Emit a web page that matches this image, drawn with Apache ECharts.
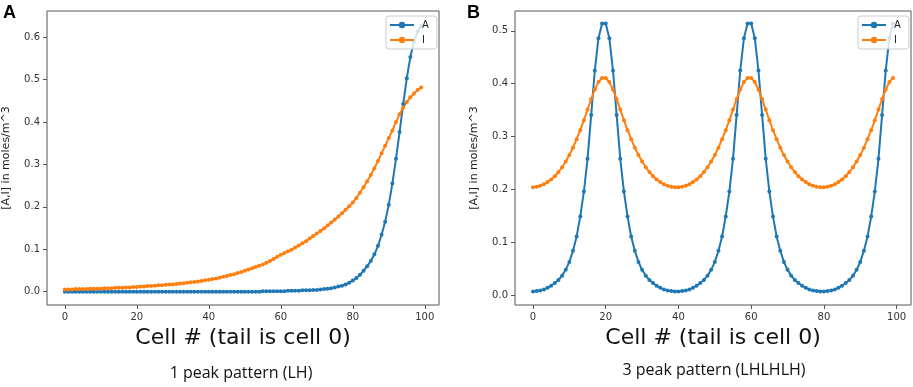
<!DOCTYPE html>
<html>
<head>
<meta charset="utf-8">
<script src="https://cdn.jsdelivr.net/npm/echarts@6/dist/echarts.min.js"></script>
<style>
  html, body { margin: 0; padding: 0; background: #fff; }
  #chart { width: 913px; height: 387px; }
</style>
</head>
<body>
<div id="chart"></div>
<script>
// cell index along the tail -> head axis
const cells = Array.from({ length: 100 }, (_, i) => i);

// panel A : 1 peak pattern (LH)
const lhA = [
  0.000, 0.000, 0.000, 0.000, 0.000, 0.000, 0.000, 0.000, 0.000, 0.000,
  0.000, 0.000, 0.000, 0.000, 0.000, 0.000, 0.000, 0.000, 0.000, 0.000,
  0.000, 0.000, 0.000, 0.000, 0.000, 0.000, 0.000, 0.000, 0.000, 0.000,
  0.000, 0.000, 0.000, 0.000, 0.000, 0.000, 0.000, 0.000, 0.000, 0.000,
  0.000, 0.000, 0.000, 0.000, 0.000, 0.000, 0.000, 0.000, 0.000, 0.000,
  0.000, 0.000, 0.000, 0.000, 0.000, 0.001, 0.001, 0.001, 0.001, 0.001,
  0.001, 0.001, 0.002, 0.002, 0.002, 0.002, 0.003, 0.003, 0.003, 0.004,
  0.004, 0.005, 0.006, 0.007, 0.008, 0.010, 0.012, 0.014, 0.017, 0.021,
  0.026, 0.032, 0.040, 0.049, 0.060, 0.072, 0.088, 0.108, 0.134, 0.165,
  0.205, 0.255, 0.313, 0.376, 0.442, 0.503, 0.553, 0.590, 0.613, 0.627
];
const lhI = [
  0.005, 0.005, 0.005, 0.006, 0.006, 0.006, 0.006, 0.007, 0.007, 0.007,
  0.007, 0.008, 0.008, 0.008, 0.009, 0.009, 0.009, 0.010, 0.010, 0.011,
  0.011, 0.012, 0.012, 0.013, 0.013, 0.014, 0.015, 0.015, 0.016, 0.017,
  0.017, 0.018, 0.019, 0.020, 0.021, 0.022, 0.023, 0.024, 0.025, 0.027,
  0.028, 0.030, 0.031, 0.033, 0.035, 0.037, 0.039, 0.041, 0.044, 0.046,
  0.049, 0.052, 0.055, 0.058, 0.061, 0.064, 0.068, 0.072, 0.077, 0.082,
  0.087, 0.091, 0.095, 0.099, 0.104, 0.109, 0.114, 0.119, 0.125, 0.131,
  0.137, 0.143, 0.149, 0.156, 0.163, 0.170, 0.177, 0.185, 0.193, 0.201,
  0.210, 0.221, 0.233, 0.246, 0.260, 0.275, 0.291, 0.308, 0.326, 0.344,
  0.362, 0.380, 0.400, 0.418, 0.434, 0.447, 0.458, 0.467, 0.475, 0.481
];

// panel B : 3 peak pattern (LHLHLH)
const lhlhA = [
  0.007, 0.008, 0.009, 0.011, 0.014, 0.018, 0.023, 0.029, 0.037, 0.048,
  0.063, 0.084, 0.111, 0.149, 0.196, 0.258, 0.341, 0.425, 0.486, 0.514,
  0.514, 0.486, 0.425, 0.341, 0.258, 0.196, 0.149, 0.111, 0.084, 0.063,
  0.048, 0.037, 0.029, 0.023, 0.018, 0.014, 0.011, 0.009, 0.008, 0.007,
  0.007, 0.008, 0.009, 0.011, 0.014, 0.018, 0.023, 0.029, 0.037, 0.048,
  0.063, 0.084, 0.111, 0.149, 0.196, 0.258, 0.341, 0.425, 0.486, 0.514,
  0.514, 0.486, 0.425, 0.341, 0.258, 0.196, 0.149, 0.111, 0.084, 0.063,
  0.048, 0.037, 0.029, 0.023, 0.018, 0.014, 0.011, 0.009, 0.008, 0.007,
  0.007, 0.008, 0.009, 0.011, 0.014, 0.018, 0.023, 0.029, 0.037, 0.048,
  0.063, 0.084, 0.111, 0.149, 0.196, 0.258, 0.341, 0.425, 0.486, 0.514
];
const lhlhI = [
  0.204, 0.205, 0.207, 0.210, 0.214, 0.219, 0.225, 0.233, 0.242, 0.253,
  0.265, 0.279, 0.295, 0.312, 0.331, 0.351, 0.371, 0.389, 0.403, 0.411,
  0.411, 0.403, 0.389, 0.371, 0.351, 0.331, 0.312, 0.295, 0.279, 0.265,
  0.253, 0.242, 0.233, 0.225, 0.219, 0.214, 0.210, 0.207, 0.205, 0.204,
  0.204, 0.205, 0.207, 0.210, 0.214, 0.219, 0.225, 0.233, 0.242, 0.253,
  0.265, 0.279, 0.295, 0.312, 0.331, 0.351, 0.371, 0.389, 0.403, 0.411,
  0.411, 0.403, 0.389, 0.371, 0.351, 0.331, 0.312, 0.295, 0.279, 0.265,
  0.253, 0.242, 0.233, 0.225, 0.219, 0.214, 0.210, 0.207, 0.205, 0.204,
  0.204, 0.205, 0.207, 0.210, 0.214, 0.219, 0.225, 0.233, 0.242, 0.253,
  0.265, 0.279, 0.295, 0.312, 0.331, 0.351, 0.371, 0.389, 0.403, 0.411
];

const xTicks = [0, 20, 40, 60, 80, 100];
const yTicksA = [0, 0.1, 0.2, 0.3, 0.4, 0.5, 0.6];
const yTicksB = [0, 0.1, 0.2, 0.3, 0.4, 0.5];
const seriesNames = ['A', 'I'];
const subtitles = ['1 peak pattern (LH)', '3 peak pattern (LHLHLH)'];
const panelLetters = ['A', 'B'];

const BLUE = '#1f77b4';
const ORANGE = '#ff7f0e';
const FRAME = '#555';

const tickFont = { fontFamily: 'DejaVu Sans', fontSize: 10, color: '#333' };

function makeX(gridIndex) {
  return {
    type: 'value',
    gridIndex: gridIndex,
    min: -4.95,
    max: 103.95,
    name: 'Cell # (tail is cell 0)',
    nameLocation: 'middle',
    nameGap: 21,
    nameTextStyle: { fontFamily: 'DejaVu Sans', fontSize: 22, color: '#111' },
    axisLine: { show: false, onZero: false },
    splitLine: { show: false },
    axisTick: { customValues: xTicks, length: 4, lineStyle: { color: FRAME } },
    axisLabel: Object.assign({ customValues: xTicks, margin: 7 }, tickFont),
  };
}

function makeY(gridIndex, min, max, ticks) {
  return {
    type: 'value',
    gridIndex: gridIndex,
    min: min,
    max: max,
    name: '[A,I] in moles/m^3',
    nameLocation: 'middle',
    nameGap: 35,
    nameTextStyle: { fontFamily: 'DejaVu Sans', fontSize: 11, color: '#222' },
    axisLine: { show: false, onZero: false },
    splitLine: { show: false },
    axisTick: { customValues: ticks, length: 4, lineStyle: { color: FRAME } },
    axisLabel: Object.assign({
      customValues: ticks,
      margin: 7,
      formatter: (v) => v.toFixed(1),
    }, tickFont),
  };
}

function makeLine(name, values, color, idx) {
  return {
    name: name,
    type: 'line',
    xAxisIndex: idx,
    yAxisIndex: idx,
    data: cells.map((c, i) => [c, values[i]]),
    symbol: 'circle',
    symbolSize: 4,
    showSymbol: true,
    color: color,
    lineStyle: { width: 2, color: color },
    itemStyle: { color: color },
  };
}

function makeLegend(left) {
  return {
    data: seriesNames,
    orient: 'vertical',
    left: left,
    top: 16,
    itemWidth: 24,
    itemHeight: 8,
    itemGap: 5,
    padding: [4, 8, 4, 3],
    backgroundColor: 'rgba(255,255,255,0.8)',
    borderColor: '#ccc',
    borderWidth: 1,
    borderRadius: 3,
    textStyle: { fontFamily: 'DejaVu Sans', fontSize: 10, color: '#222', padding: [0, 0, 0, 3] },
    selectedMode: false,
  };
}

const gridLefts = [43, 515];

const chart = echarts.init(document.getElementById('chart'), null, { renderer: 'canvas' });

chart.setOption({
  animation: false,
  backgroundColor: '#fff',
  grid: gridLefts.map((l) => ({
    left: l,
    top: 11,
    width: 396,
    height: 294,
    show: true,
    borderColor: FRAME,
    borderWidth: 1,
    backgroundColor: 'transparent',
  })),
  xAxis: [makeX(0), makeX(1)],
  yAxis: [
    makeY(0, -0.0315, 0.6615, yTicksA),
    makeY(1, -0.0185, 0.5375, yTicksB),
  ],
  legend: [makeLegend(386), makeLegend(858)],
  series: [
    makeLine('A', lhA, BLUE, 0),
    makeLine('I', lhI, ORANGE, 0),
    makeLine('A', lhlhA, BLUE, 1),
    makeLine('I', lhlhI, ORANGE, 1),
  ],
  graphic: [
    // panel letters
    { type: 'text', x: 3, y: 4, style: { text: panelLetters[0], font: 'bold 18px "Liberation Sans"', fill: '#000' } },
    { type: 'text', x: 467, y: 4, style: { text: panelLetters[1], font: 'bold 18px "Liberation Sans"', fill: '#000' } },
    // captions under each panel
    { type: 'text', x: 241, y: 373, style: { text: subtitles[0], font: '16px "Open Sans"', fill: '#111', textAlign: 'center', textVerticalAlign: 'middle' } },
    { type: 'text', x: 714, y: 370, style: { text: subtitles[1], font: '16px "Open Sans"', fill: '#111', textAlign: 'center', textVerticalAlign: 'middle' } },
  ],
});

window.addEventListener('resize', () => chart.resize());
</script>
</body>
</html>
